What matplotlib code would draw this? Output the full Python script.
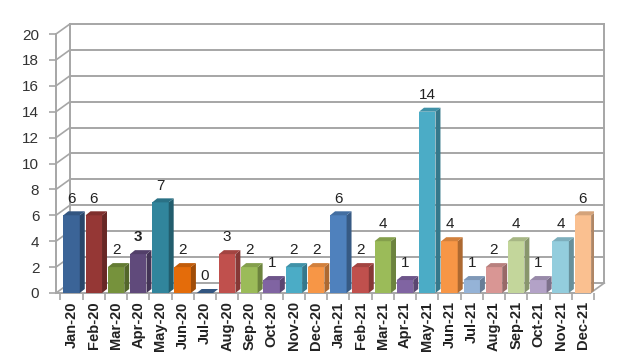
import numpy as np
import matplotlib
matplotlib.use("Agg")
import matplotlib.pyplot as plt
from matplotlib.patches import Polygon

plt.rcParams["font.family"] = ["Liberation Sans", "DejaVu Sans"]

months = ["Jan-20", "Feb-20", "Mar-20", "Apr-20", "May-20", "Jun-20",
          "Jul-20", "Aug-20", "Sep-20", "Oct-20", "Nov-20", "Dec-20",
          "Jan-21", "Feb-21", "Mar-21", "Apr-21", "May-21", "Jun-21",
          "Jul-21", "Aug-21", "Sep-21", "Oct-21", "Nov-21", "Dec-21"]
counts = [6, 6, 2, 3, 7, 2, 0, 3, 2, 1, 2, 2,
          6, 2, 4, 1, 14, 4, 1, 2, 4, 1, 4, 6]
colors = ["#3b6497", "#953735", "#76923c", "#604a7b", "#31859c", "#e46c0a",
          "#3b6497", "#c0504d", "#9bbb59", "#8064a2", "#4bacc6", "#f79646",
          "#4f81bd", "#c0504d", "#9bbb59", "#8064a2", "#4bacc6", "#f79646",
          "#95b3d7", "#d99694", "#c3d69b", "#b3a2c7", "#93cddd", "#fac090"]
yticks = list(range(0, 21, 2))


def shade(c, f):
    r, g, b = matplotlib.colors.to_rgb(c)
    return (r * f, g * f, b * f)


fig = plt.figure(figsize=(6.4, 3.59), dpi=100)
W, H = 640, 359
# front plane of plot in pixels
x0, x1, ytop, ybot = 56, 594, 34, 293
ax = fig.add_axes([x0 / W, 1 - ybot / H, (x1 - x0) / W, (ybot - ytop) / H])
n = len(months)
xmin, xmax = -0.7, n - 0.66
ax.set_xlim(xmin, xmax)
ax.set_ylim(0, 20)
for s in ax.spines.values():
    s.set_visible(False)

pxx = (xmax - xmin) / (x1 - x0)   # data units per px in x
pxy = 20 / (ybot - ytop)
DX, DY = 14 * pxx, 10 * pxy       # wall depth
grid_c = "#a6a6a6"

# back wall gridlines and side diagonals
for t in yticks:
    ax.plot([xmin + DX, xmax + DX], [t + DY, t + DY], color=grid_c, lw=1.4,
            clip_on=False, zorder=0)
    ax.plot([xmin, xmin + DX], [t, t + DY], color=grid_c, lw=1.2,
            clip_on=False, zorder=0)
ax.plot([xmin + DX, xmin + DX], [DY, 20 + DY], color=grid_c, lw=1.4, clip_on=False, zorder=0)
ax.plot([xmax + DX, xmax + DX], [DY, 20 + DY], color=grid_c, lw=1.4, clip_on=False, zorder=0)
ax.plot([xmin, xmin], [0, 20], color=grid_c, lw=1.4, clip_on=False, zorder=0)
ax.plot([xmin, xmax], [0, 0], color=grid_c, lw=1.4, clip_on=False, zorder=0)
ax.plot([xmax, xmax + DX], [0, DY], color=grid_c, lw=1.2, clip_on=False, zorder=0)

# bars with simple 3d faces
w = 0.74
bx, by = 5 * pxx, 4 * pxy
x = np.arange(n)
ax.bar(x, counts, width=w, color=colors, zorder=3, linewidth=0)
for xi, v, c in zip(x, counts, colors):
    l, r = xi - w / 2, xi + w / 2
    side = Polygon([(r, 0), (r + bx, by), (r + bx, v + by), (r, v)],
                   closed=True, fc=shade(c, 0.7), ec="none", zorder=3)
    top = Polygon([(l, v), (l + bx, v + by), (r + bx, v + by), (r, v)],
                  closed=True, fc=shade(c, 0.85), ec="none", zorder=3)
    ax.add_patch(side)
    ax.add_patch(top)
    ax.annotate(str(v), (xi, v), xytext=(0, 7), textcoords="offset points",
                ha="center", va="bottom", fontsize=11, color="#222222",
                fontweight="bold" if v == 3 and xi == 3 else "normal")

ax.set_yticks(yticks)
ax.set_yticklabels([str(t) for t in yticks], fontsize=11, color="#333333")
ax.set_xticks(x)
ax.set_xticklabels(months, rotation=90, fontsize=10.5, fontweight="bold", color="#222222")
ax.tick_params(axis="y", length=5, color=grid_c, width=1.2, pad=7)
ax.set_xticks(np.arange(n + 1) - 0.5, minor=True)
ax.tick_params(axis="x", which="major", length=0, pad=6)
ax.tick_params(axis="x", which="minor", length=5, color=grid_c, width=1.2)

fig.savefig("out.png", dpi=100)
